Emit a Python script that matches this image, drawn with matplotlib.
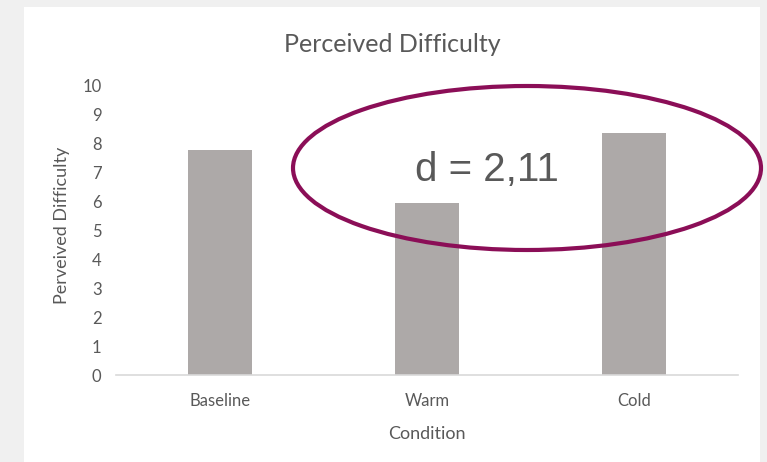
import matplotlib
matplotlib.use("Agg")
import matplotlib.pyplot as plt
from matplotlib.patches import Rectangle, Ellipse

categories = ["Baseline", "Warm", "Cold"]
values = [7.8, 5.95, 8.37]
yticks = list(range(0, 11))

W, H = 767, 462
fig = plt.figure(figsize=(W / 100, H / 100), dpi=100)
fig.patch.set_facecolor("#f0f0f0")
fig.patches.append(Rectangle((24 / W, 0), (760 - 24) / W, 1 - 7 / H,
                             transform=fig.transFigure, facecolor="white",
                             edgecolor="none", zorder=-10))

plt.rcParams['font.family'] = ['Lato', 'DejaVu Sans']
txt = "#595959"

ax = fig.add_axes([116 / W, 1 - 375 / H, (738 - 116) / W, (375 - 86) / H])
ax.set_facecolor("none")
x = range(len(categories))
ax.bar(x, values, width=0.31, color="#ADA9A8", zorder=2)
ax.set_xlim(-0.5, 2.5)
ax.set_ylim(0, 10)
ax.set_yticks(yticks)
ax.set_xticks(list(x))
ax.set_xticklabels(categories)
for s in ["top", "right", "left"]:
    ax.spines[s].set_visible(False)
ax.spines["bottom"].set_color("#d9d9d9")
ax.spines["bottom"].set_linewidth(1.2)
ax.tick_params(axis="both", length=0, colors=txt, labelsize=12)
ax.tick_params(axis="x", pad=13)
ax.tick_params(axis="y", pad=10.5)
ax.set_xlabel("Condition", color=txt, fontsize=13, labelpad=12)

fig.text(62 / W, 1 - 225 / H, "Perveived Difficulty", ha="center", va="center",
         rotation=90, color=txt, fontsize=13)

fig.text(392 / W, 1 - 44 / H, "Perceived Difficulty", ha="center", va="center",
         color=txt, fontsize=18, zorder=6)

fig.patches.append(Ellipse((527 / W, 1 - 168 / H), 468 / W, 164 / H,
                           transform=fig.transFigure, facecolor="none",
                           edgecolor="#8B0E57", linewidth=3.0, zorder=5))
fig.text(487 / W, 1 - 170 / H, "d = 2,11", ha="center", va="center",
         color="#595959", fontsize=29, family=["Liberation Sans", "DejaVu Sans"],
         zorder=6)

fig.savefig("out.png", dpi=100, facecolor=fig.get_facecolor())
